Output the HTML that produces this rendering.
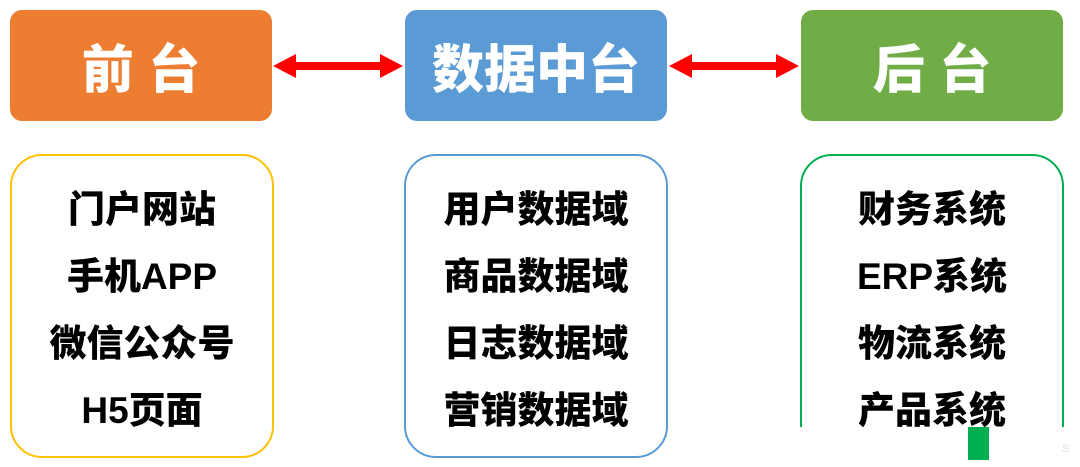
<!DOCTYPE html>
<html><head><meta charset="utf-8"><style>
body{margin:0;width:1080px;height:467px;background:#fff;position:relative;overflow:hidden;font-family:"Liberation Sans","Noto Sans CJK SC",sans-serif;}
.t{position:absolute;top:10px;width:262px;height:111px;border-radius:12px;color:#fff;font-weight:900;font-size:52px;display:flex;align-items:center;justify-content:center}
.b{position:absolute;top:154px;width:260px;height:300px;border:2px solid;border-radius:32px;box-sizing:content-box}
.i{position:absolute;left:0;right:0;text-align:center;font-weight:900;font-size:37px;color:#000;line-height:44px}
</style></head><body>
<div class="t" style="left:10px;background:#ed7d31">前&nbsp;台</div>
<div class="t" style="left:405px;background:#5b9bd5">数据中台</div>
<div class="t" style="left:801px;background:#70ad47">后&nbsp;台</div>
<svg style="position:absolute;left:0;top:0" width="1080" height="467">
<polygon points="273,66 296,54 296,62 380,62 380,54 403,66 380,78 380,70 296,70 296,78" fill="#f00"/>
<polygon points="669,66 692,54 692,62 776,62 776,54 799,66 776,78 776,70 692,70 692,78" fill="#f00"/>
</svg>
<div class="b" style="left:10px;border-color:#ffc000">
<div class="i" style="top:32px">门户网站</div><div class="i" style="top:99px">手机APP</div><div class="i" style="top:166px">微信公众号</div><div class="i" style="top:233px">H5页面</div></div>
<div class="b" style="left:404px;border-color:#5b9bd5">
<div class="i" style="top:32px">用户数据域</div><div class="i" style="top:99px">商品数据域</div><div class="i" style="top:166px">日志数据域</div><div class="i" style="top:233px">营销数据域</div></div>
<div class="b" style="left:800px;border-color:#00b050">
<div class="i" style="top:32px">财务系统</div><div class="i" style="top:99px">ERP系统</div><div class="i" style="top:166px">物流系统</div><div class="i" style="top:233px">产品系统</div></div>
<div style="position:absolute;left:780px;top:427px;width:300px;height:40px;background:#fff"></div>
<div style="position:absolute;left:968px;top:427px;width:21px;height:33px;background:#00b050"></div>
<div style="position:absolute;left:1062px;top:443px;font-size:11px;color:#ddd">S</div>
</body></html>
